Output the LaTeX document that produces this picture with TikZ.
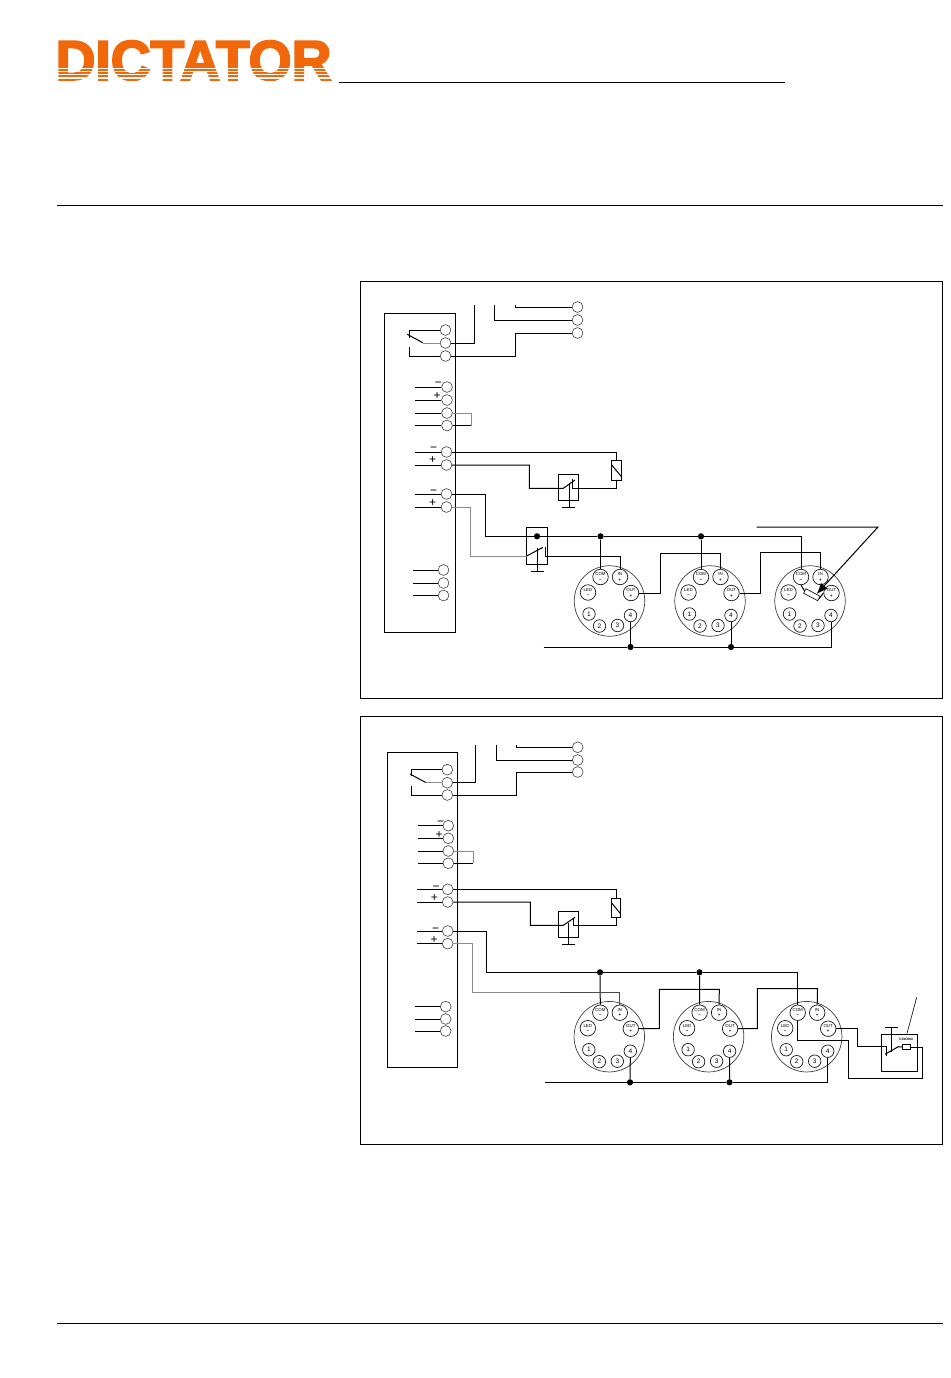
\documentclass[tikz,border=0pt]{standalone}
\usepackage{fontspec}
\usepackage{graphicx}
\setmainfont{Liberation Sans}
\newfontfamily\logofont[FakeBold=3.5]{Liberation Sans Bold}
\usetikzlibrary{arrows.meta,calc}
\definecolor{dictorange}{RGB}{240,104,10}

\tikzset{
  terminal/.style={circle,draw=black!75,line width=0.6pt,fill=white,minimum size=10.8pt,inner sep=0pt},
  unitbox/.style={rectangle,draw,line width=0.9pt,inner sep=0pt},
  frame/.style={rectangle,draw,line width=0.9pt,inner sep=0pt},
  wire/.style={line width=1pt},
  graywire/.style={line width=1pt,draw=black!45},
  sign/.style={font=\fontsize{12}{12}\selectfont,inner sep=0pt},
  joint/.style={circle,fill=black,minimum size=6.2pt,inner sep=0pt},
  headring/.style={circle,draw=black!75,line width=0.7pt,minimum size=70.5pt,inner sep=0pt},
  pin/.style={circle,draw=black!90,line width=0.7pt,fill=white,minimum size=15.5pt,inner sep=0pt,
    font=\fontsize{4.4}{5.4}\selectfont,align=center},
  smallpin/.style={circle,draw=black!90,line width=0.7pt,fill=white,minimum size=12.5pt,inner sep=0pt,
    font=\fontsize{6.5}{6.5}\selectfont}
}

\begin{document}
\begin{tikzpicture}[x=1pt,y=-1pt]

\useasboundingbox (0,0) rectangle (950,1378);

\def\sensorhead#1#2#3{
  \node[headring] (#1) at (#2,#3) {};
  \node[pin] (#1com) at ($(#2,#3)+(-9,-24)$) {COM\\\textbf{−}};
  \node[pin] (#1in) at ($(#2,#3)+(10.5,-24)$) {IN\\\textbf{+}};
  \node[pin] (#1out) at ($(#2,#3)+(21.5,-8)$) {OUT\\\textbf{+}};
  \node[pin] (#1led) at ($(#2,#3)+(-21.5,-8.5)$) {LED\\\textbf{−}};
  \node[smallpin] (#1one) at ($(#2,#3)+(-20.5,13)$) {1};
  \node[smallpin] (#1two) at ($(#2,#3)+(-10,25)$) {2};
  \node[smallpin] (#1three) at ($(#2,#3)+(8,24.5)$) {3};
  \node[smallpin] (#1four) at ($(#2,#3)+(21,14.5)$) {4};
}

% header
\node[inner sep=0pt,text=dictorange,font=\logofont\fontsize{56}{56}\selectfont] (logo) at (193.5,60.5) {\scalebox{0.985}[1]{DICTATOR}};
\foreach \y/\w in {68.3/0.9,71.5/1.2,74.8/1.4,77.8/1.6}
  \draw[white,line width=\w pt] (50,\y) -- (340,\y);
\fill[white] (50,80.6) rectangle (340,90);
\coordinate (headl) at (339,82);
\coordinate (headr) at (785,82);
\draw[line width=0.9pt] (headl) -- (headr);
\coordinate (rulel) at (57,205);
\coordinate (ruler) at (943,205);
\draw[line width=0.9pt] (rulel) -- (ruler);
\coordinate (footl) at (57,1323);
\coordinate (footr) at (943,1323);
\draw[line width=0.9pt] (footl) -- (footr);

% upper panel
\node[frame,minimum width=582pt,minimum height=417pt] (apanel) at (651.5,490) {};
\node[unitbox,minimum width=71pt,minimum height=319pt] (aunit) at (420,472.5) {};

\foreach \n/\x/\y in {atopa/577.5/307,atopb/577.5/320,atopc/577.5/333,
  arela/445.5/330,arelb/445.5/343,arelc/445.5/356,
  asupa/447/387,asupb/447/400,asupc/447/413,asupd/447/425.5,
  acoila/446.5/452,acoilb/446.5/465,
  abusa/446.5/494,abusb/446.5/507,
  aauxa/443.5/570,aauxb/443.5/583,aauxc/443.5/595.5}
  \node[terminal] (\n) at (\x,\y) {};

\foreach \n in {asupa,asupb,asupc,asupd,acoila,acoilb,abusa,abusb}
  \draw[wire] (\n.west) -- (415,0 |- \n);
\foreach \n in {aauxa,aauxb,aauxc}
  \draw[wire] (\n.west) -- (412.5,0 |- \n);

\node[sign] (asgna) at (438.3,384.5) {−};
\node[sign] (asgnb) at (437,396.5) {+};
\node[sign] (asgnc) at (433.5,449.5) {−};
\node[sign] (asgnd) at (432.5,460.5) {+};
\node[sign] (asgne) at (433.5,492) {−};
\node[sign] (asgnf) at (432.5,503) {+};

% relay contact
\draw[wire] (arela.west) -- (409.3,330) -- (409.3,338);
\draw[wire] (arelc.west) -- (409.3,356) -- (409.3,347);
\draw[wire] (407.3,334.3) -- (422.7,342.7);
\draw[graywire] (422.7,343) -- (arelb.west);

\coordinate (aenda) at (474.5,305);
\coordinate (aendb) at (494.5,305);
\coordinate (aendc) at (515.5,305);
\draw[wire] (arelb.east) -| (aenda);
\draw[wire] (aendb) |- (atopb.west);
\draw[wire] (aendc) |- (atopa.west);
\draw[wire] (arelc.east) -- (515.5,356) |- (atopc.west);

\draw[graywire] (asupc.east) -- (471,413) -- (471,425.5);
\draw[wire] (asupd.east) -- (471,425.5);

% door contact with fuse
\node[frame,minimum width=10pt,minimum height=20.5pt] (afuse) at (616.7,470.2) {};
\draw[wire] (611.7,465) -- (621.7,477);
\node[frame,minimum width=20.5pt,minimum height=26pt] (aswa) at (568.5,487.3) {};
\draw[wire] (acoila.east) -| (afuse.north);
\draw[wire] (acoilb.east) -- (529.3,465) |- (563.3,488.3) -- (575,480);
\draw[wire] (afuse.south) |- (572.3,488.3) -- (572.3,478.5);
\coordinate (agnda) at (569,507.3);
\draw[wire] (569,483.3) -- (agnda);
\draw[wire] (562.3,507.3) -- (575,507.3);

% bus and second contact
\node[frame,minimum width=21pt,minimum height=37pt] (aswb) at (536.8,545.8) {};
\node[joint] (adota) at (537,536.3) {};
\node[joint] (adotb) at (600.5,536.3) {};
\node[joint] (adotc) at (701,536.3) {};
\draw[wire] (537.7,548) -- (537.7,571.7);
\draw[wire] (530.5,571.7) -- (543.7,571.7);

\sensorhead{ashd}{609.5}{601}
\sensorhead{asha}{710}{601}
\sensorhead{ashb}{810}{601}

\draw[wire] (abusa.east) -- (485.7,494) |- (adota) -- (adotb) -- (adotc) -| (ashbcom.north);
\draw[wire] (adotb) -- (ashdcom.north);
\draw[wire] (adotc) -- (ashacom.north);
\draw[graywire] (abusb.east) -- (470.7,507) |- (526.7,556);
\draw[wire] (526.7,556) -- (543,547.3);
\draw[wire] (545.7,547) |- (620,556) -- (ashdin.north);
\draw[wire] (ashdout.east) -- (660,593) |- (720.5,553) -- (ashain.north);
\draw[wire] (ashaout.east) -- (760,593) |- (820.5,552.5) -- (ashbin.north);

\node[joint] (adotd) at (630.5,647) {};
\node[joint] (adote) at (731,647) {};
\coordinate (aret) at (543.5,647);
\draw[wire] (aret) -- (adotd) -- (adote) -| (ashbfour.south);
\draw[wire] (adotd) -- (ashdfour.south);
\draw[wire] (adote) -- (ashafour.south);

\node[rectangle,draw,fill=white,line width=0.6pt,rotate=-28,minimum width=16pt,minimum height=5pt,inner sep=0pt] (ares) at (811.8,594.7) {};
\draw[wire] (ashbcom.south) -- (ares.west);
\draw[wire] (ares.east) -- (ashbout.west);
\coordinate (alabl) at (756.7,527);
\coordinate (alabc) at (878,527);
\coordinate (alabt) at (816.7,594);
\draw[wire,-{Latex[length=11pt,width=9pt]}] (alabl) -- (alabc) -- (alabt);

% lower panel
\node[frame,minimum width=582pt,minimum height=428pt] (bpanel) at (651.5,930.5) {};
\node[unitbox,minimum width=70pt,minimum height=315pt] (bunit) at (422.3,909.8) {};

\foreach \n/\x/\y in {btopa/577.7/747.3,btopb/577.7/760,btopc/577.7/772,
  brela/447.3/769.7,brelb/447.3/782.7,brelc/447.3/795,
  bsupa/448.3/825.7,bsupb/448.3/838.3,bsupc/448.3/851,bsupd/448.3/863.3,
  bcoila/447.7/889.3,bcoilb/447.7/902,
  bbusa/447.7/931,bbusb/447.7/943.7,
  bauxa/445.7/1006.7,bauxb/445.7/1019,bauxc/445.7/1031}
  \node[terminal] (\n) at (\x,\y) {};

\foreach \n in {bsupa,bsupb,bsupc,bsupd}
  \draw[wire] (\n.west) -- (418,0 |- \n);
\foreach \n in {bcoila,bcoilb,bbusa,bbusb}
  \draw[wire] (\n.west) -- (417.3,0 |- \n);
\foreach \n in {bauxa,bauxb,bauxc}
  \draw[wire] (\n.west) -- (415,0 |- \n);

\node[sign] (bsgna) at (440.7,823.5) {−};
\node[sign] (bsgnb) at (439,835.5) {+};
\node[sign] (bsgnc) at (436,888) {−};
\node[sign] (bsgnd) at (434.3,898.5) {+};
\node[sign] (bsgne) at (435.7,930) {−};
\node[sign] (bsgnf) at (434,940) {+};

\draw[wire] (brela.west) -- (411.3,769.7) -- (411.3,776);
\draw[wire] (brelc.west) -- (411.3,795) -- (411.3,786);
\draw[wire] (410,774) -- (425.7,782.5);
\draw[graywire] (425.7,782.7) -- (brelb.west);

\coordinate (benda) at (475.3,745);
\coordinate (bendb) at (496.3,745);
\coordinate (bendc) at (516.3,745);
\draw[wire] (brelb.east) -| (benda);
\draw[wire] (bendb) |- (btopb.west);
\draw[wire] (bendc) |- (btopa.west);
\draw[wire] (brelc.east) -- (516.3,795) |- (btopc.west);

\draw[graywire] (bsupc.east) -- (473,851) -- (473,863.3);
\draw[wire] (bsupd.east) -- (473,863.3);

\node[frame,minimum width=9.5pt,minimum height=19.5pt] (bfuse) at (616,908) {};
\draw[wire] (611.3,902.5) -- (620.7,914);
\node[frame,minimum width=20.5pt,minimum height=26pt] (bswa) at (568.5,924.3) {};
\draw[wire] (bcoila.east) -| (bfuse.north);
\draw[wire] (bcoilb.east) -- (530.3,902) |- (563.3,925.3) -- (575,917.3);
\draw[wire] (bfuse.south) |- (573.7,925.3) -- (573.7,917.7);
\coordinate (bgnda) at (568.7,944.3);
\draw[wire] (568.7,923.3) -- (bgnda);
\draw[wire] (562,944.3) -- (575,944.3);

\node[joint] (bdotb) at (600,972.3) {};
\node[joint] (bdotc) at (699.5,972.3) {};

\sensorhead{bshd}{609.3}{1036.7}
\sensorhead{bsha}{708.6}{1036.7}
\sensorhead{bshb}{806.7}{1036.7}

\draw[wire] (bbusa.east) -- (486.3,931) |- (bdotb) -- (bdotc) -| (bshbcom.north);
\draw[wire] (bdotb) -- (bshdcom.north);
\draw[wire] (bdotc) -- (bshacom.north);
\draw[graywire] (bbusb.east) -- (472,943.7) |- (560,992.3);
\draw[line width=0.8pt,draw=black!70] (560,992.3) -| (bshdin.north);
\draw[wire] (bshdout.east) -- (659.3,1028.7) |- (719.3,989.3) -- (bshain.north);
\draw[wire] (bshaout.east) -- (757.3,1028.7) |- (817.5,988.7) -- (bshbin.north);

\node[joint] (bdotd) at (630,1082.3) {};
\node[joint] (bdote) at (729.5,1082.3) {};
\coordinate (bret) at (544.5,1082.3);
\draw[wire] (bret) -- (bdotd) -- (bdote) -| (bshbfour.south);
\draw[wire] (bdotd) -- (bshdfour.south);
\draw[wire] (bdote) -- (bshafour.south);

% end-of-line box
\node[frame,minimum width=36pt,minimum height=37pt] (beol) at (899,1052.5) {};
\node[rectangle,draw,line width=0.7pt,minimum width=8pt,minimum height=4.5pt,inner sep=0pt] (bres) at (906.7,1047) {};
\node[inner sep=0pt,font=\fontsize{3.4}{3.4}\selectfont\bfseries] (bval) at (906,1039.5) {3,3kOhm};
\draw[wire] (bshbcom.south) -- (797.7,1040) -- (848.7,1040) |- (922.7,1078) |- (bres.east);
\draw[wire] (bshbout.east) -- (857.3,1028.7) |- (886.7,1046.7) -- (886.7,1055.7);
\draw[wire] (885,1054.3) -- (898.3,1046.7) -- (bres.west);
\coordinate (bgndb) at (891.7,1027.7);
\draw[wire] (bgndb) -- (891.7,1051.7);
\draw[wire] (885,1027.7) -- (897.7,1027.7);
\coordinate (blabl) at (916.7,997.3);
\coordinate (blabe) at (907,1033.5);
\draw[line width=0.6pt] (blabl) -- (blabe);

\end{tikzpicture}
\end{document}
